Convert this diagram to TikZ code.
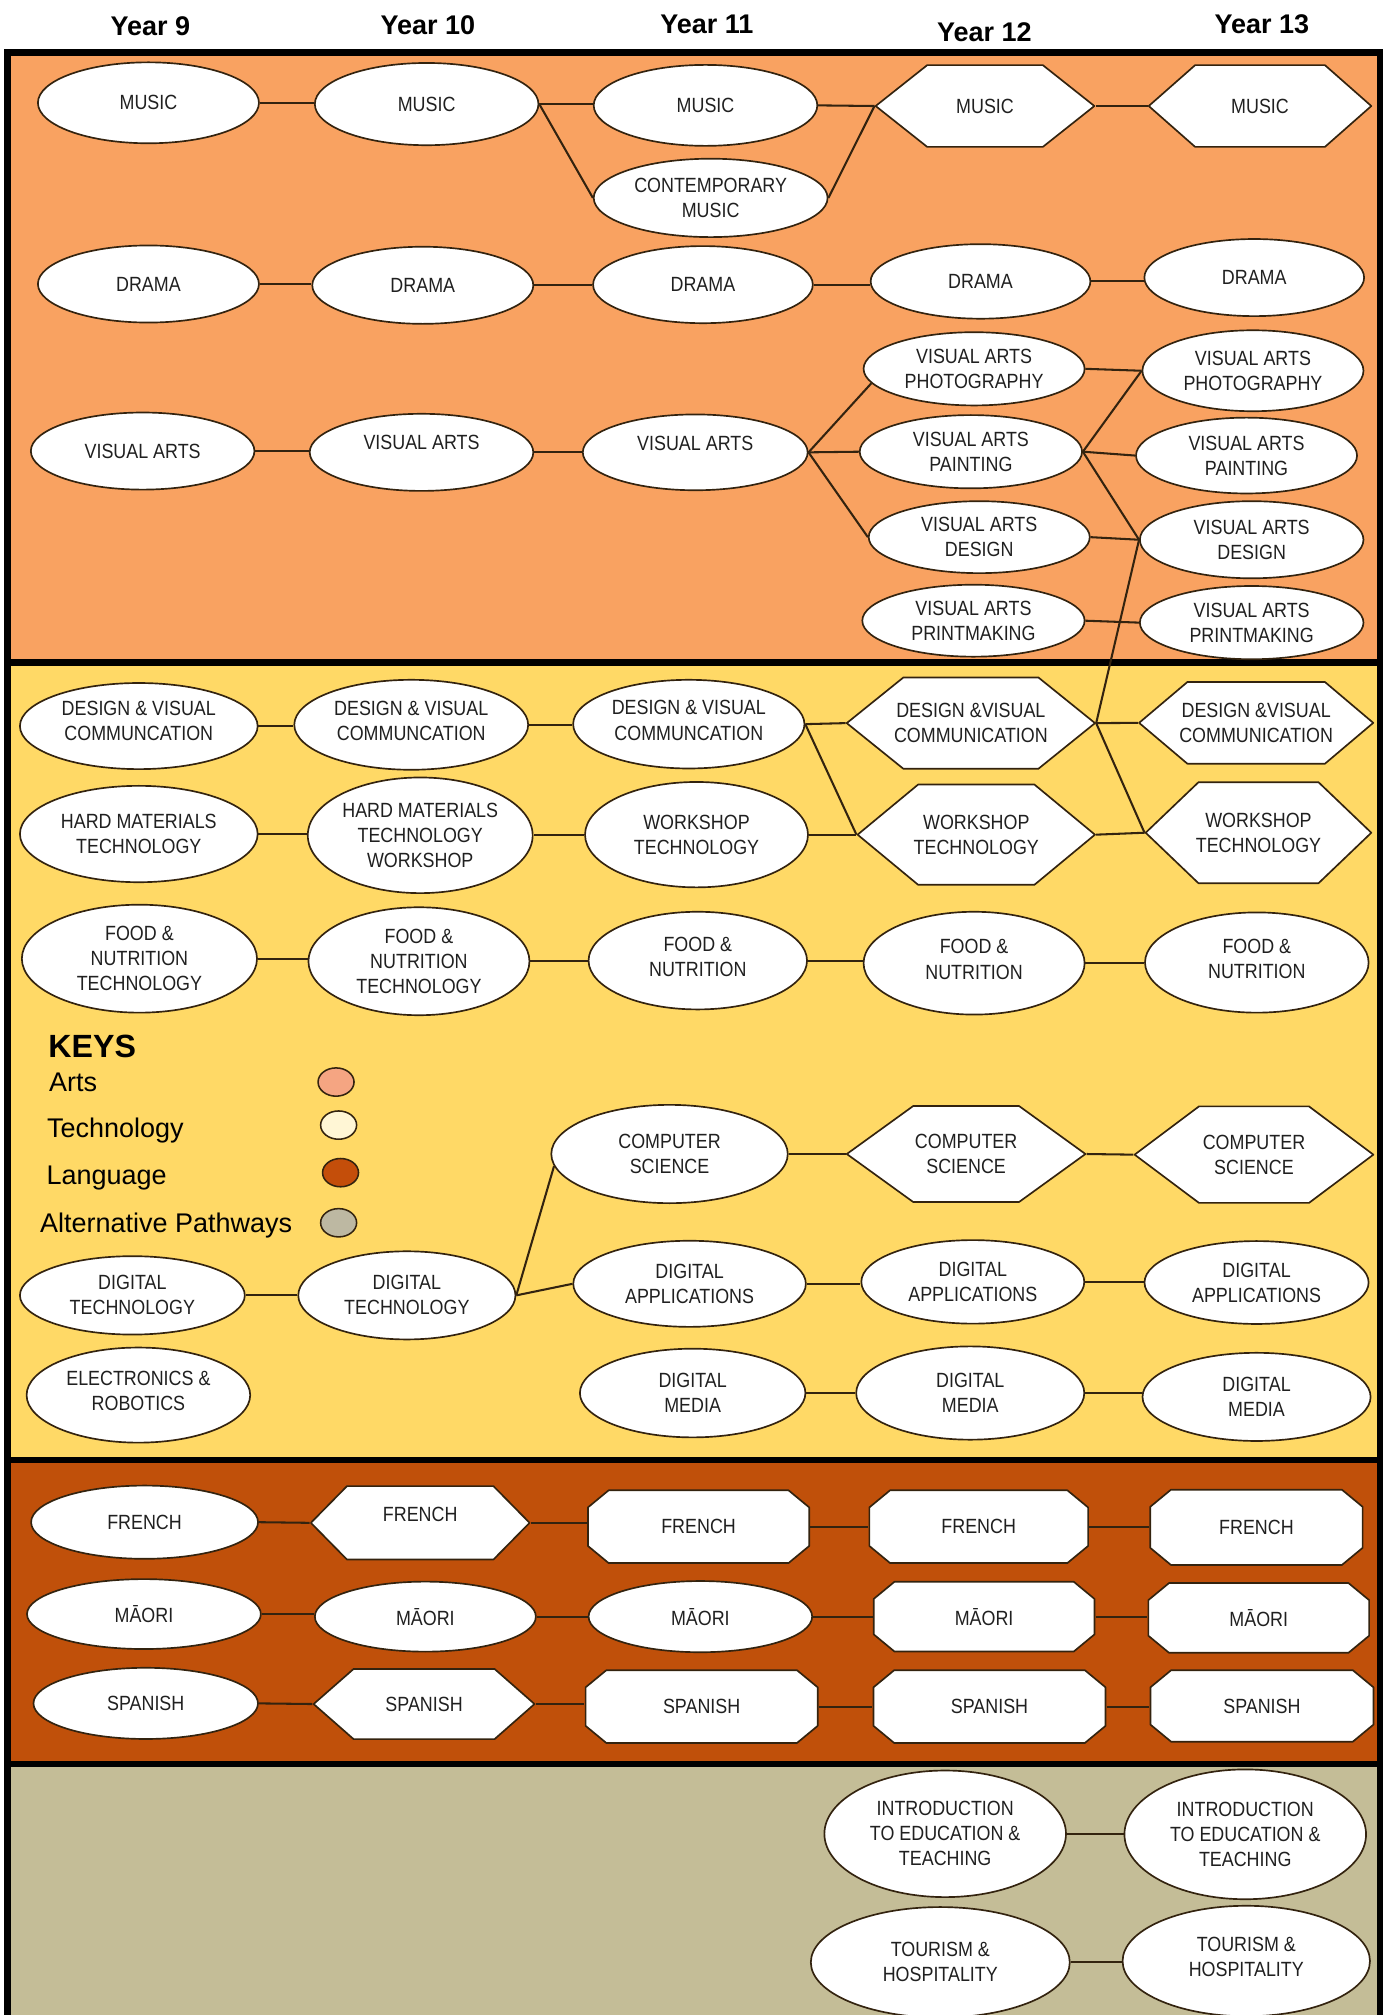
\documentclass[tikz,border=0pt]{standalone}
\usepackage{fontspec}
\setmainfont{Liberation Sans}
\newfontfamily\nodefam[FakeStretch=0.87]{Liberation Sans}
\newcommand\nfnt{\nodefam\fontsize{16}{19.5}\selectfont}
\usetikzlibrary{shapes.geometric}
\definecolor{artsc}{HTML}{F9A261}
\definecolor{techc}{HTML}{FFD966}
\definecolor{langc}{HTML}{C0500A}
\definecolor{altc}{HTML}{C4BD97}
\definecolor{linec}{HTML}{33230F}
\definecolor{txtc}{HTML}{202020}
\definecolor{artsk}{HTML}{F5A582}
\definecolor{techk}{HTML}{FFF6D5}
\definecolor{langk}{HTML}{C44E0A}
\definecolor{altk}{HTML}{BDB8A2}
\tikzset{
  hexin/.store in=\hexin, hexin=40pt,
  octx/.store in=\octx, octx=17pt,
  octy/.store in=\octy, octy=14pt,
  sz/.style 2 args={minimum width=#1pt, minimum height=#2pt},
  txtup/.style={text depth=#1},
  ell/.style={ellipse, draw=linec, fill=white, line width=1.3pt, inner sep=0pt,
    align=center, font=\nfnt, text=txtc},
  hexnode/.style={rectangle, inner sep=0pt, outer sep=0pt, align=center, font=\nfnt, text=txtc,
    path picture={\filldraw[fill=white, draw=linec, line width=1.3pt, line join=round]
      ([xshift=0.9pt]path picture bounding box.west)
      -- ([xshift=\hexin, yshift=-0.7pt]path picture bounding box.north west)
      -- ([xshift=-\hexin, yshift=-0.7pt]path picture bounding box.north east)
      -- ([xshift=-0.9pt]path picture bounding box.east)
      -- ([xshift=-\hexin, yshift=0.7pt]path picture bounding box.south east)
      -- ([xshift=\hexin, yshift=0.7pt]path picture bounding box.south west)
      -- cycle;}},
  octnode/.style={rectangle, inner sep=0pt, outer sep=0pt, align=center, font=\nfnt, text=txtc,
    path picture={\filldraw[fill=white, draw=linec, line width=1.3pt, line join=round]
      ([xshift=0.9pt, yshift=-\octy]path picture bounding box.north west)
      -- ([xshift=\octx, yshift=-0.7pt]path picture bounding box.north west)
      -- ([xshift=-\octx, yshift=-0.7pt]path picture bounding box.north east)
      -- ([xshift=-0.9pt, yshift=-\octy]path picture bounding box.north east)
      -- ([xshift=-0.9pt, yshift=\octy]path picture bounding box.south east)
      -- ([xshift=-\octx, yshift=0.7pt]path picture bounding box.south east)
      -- ([xshift=\octx, yshift=0.7pt]path picture bounding box.south west)
      -- ([xshift=0.9pt, yshift=\octy]path picture bounding box.south west)
      -- cycle;}},
  conn/.style={draw=linec, line width=1.6pt},
  frame/.style={draw=black, line width=5pt},
  hdr/.style={font=\fontsize{21}{25}\selectfont\bfseries, text=black, inner sep=0pt},
  leg/.style={font=\fontsize{21}{25}\selectfont, text=black, inner sep=0pt},
  keysym/.style={ellipse, draw=linec, line width=1.2pt, minimum width=28pt, minimum height=22pt, inner sep=0pt},
}
\newcommand\hlink[2]{\draw[conn] (#1.east) -- (#1.east -| #2.west);}
\begin{document}
\begin{tikzpicture}[x=1pt, y=-1pt]
\useasboundingbox (0,0) rectangle (1082,1568);
% backgrounds
\fill[artsc] (6,41) rectangle (1074,515.5);
\fill[techc] (6,515.5) rectangle (1074,1136);
\fill[langc] (6,1136) rectangle (1074,1372.5);
\fill[altc] (6,1372.5) rectangle (1074,1568);
\draw[frame] (6,1570) -- (6,41) -- (1074,41) -- (1074,1570);
\draw[frame] (6,515.5) -- (1074,515.5);
\draw[frame] (6,1136) -- (1074,1136);
\draw[frame] (6,1372.5) -- (1074,1372.5);
% headers
\node[hdr, anchor=base] (h9) at (117,28) {Year 9};
\node[hdr, anchor=base] (h10) at (333,27) {Year 10};
\node[hdr, anchor=base] (h11) at (550,26) {Year 11};
\node[hdr, anchor=base] (h12) at (766,32) {Year 12};
\node[hdr, anchor=base] (h13) at (982,26) {Year 13};
% ARTS
\node[ell, sz={172}{63}] (m9) at (115.5,80) {MUSIC};
\node[ell, sz={174}{64}] (m10) at (332,81) {MUSIC};
\node[ell, sz={174}{63}] (m11) at (549,82) {MUSIC};
\node[ell, sz={182}{61}] (cm11) at (553,154) {CONTEMPORARY\\MUSIC};
\node[hexnode, sz={172}{65}, hexin=41pt] (m12) at (766.5,82.5) {MUSIC};
\node[hexnode, sz={175}{65}, hexin=37pt] (m13) at (980.5,82.5) {MUSIC};
\node[ell, sz={172}{60}] (d9) at (115.5,221) {DRAMA};
\node[ell, sz={172}{60}] (d10) at (329,222) {DRAMA};
\node[ell, sz={171}{60}] (d11) at (547,221.5) {DRAMA};
\node[ell, sz={171}{58}] (d12) at (763,219) {DRAMA};
\node[ell, sz={171}{60}] (d13) at (976,216) {DRAMA};
\node[ell, sz={174}{60}] (va9) at (111,351) {VISUAL ARTS};
\node[ell, sz={174}{60}, txtup=16pt] (va10) at (328,352) {VISUAL ARTS};
\node[ell, sz={175}{59}, txtup=14pt] (va11) at (541,352) {VISUAL ARTS};
\node[ell, sz={172}{57}] (vap12) at (758,287) {VISUAL ARTS\\PHOTOGRAPHY};
\node[ell, sz={173}{57}] (vapa12) at (755.5,351.5) {VISUAL ARTS\\PAINTING};
\node[ell, sz={172}{56}] (vad12) at (762,418) {VISUAL ARTS\\DESIGN};
\node[ell, sz={173}{56}] (vapr12) at (757.5,483) {VISUAL ARTS\\PRINTMAKING};
\node[ell, sz={172}{63}] (vap13) at (975,288.5) {VISUAL ARTS\\PHOTOGRAPHY};
\node[ell, sz={172}{59}] (vapa13) at (970,354.5) {VISUAL ARTS\\PAINTING};
\node[ell, sz={174}{60}] (vad13) at (974,420) {VISUAL ARTS\\DESIGN};
\node[ell, sz={174}{57}] (vapr13) at (974,484.5) {VISUAL ARTS\\PRINTMAKING};
% TECHNOLOGY
\node[ell, sz={185}{67}, txtup=8pt] (dvc9) at (108,565) {DESIGN \& VISUAL\\COMMUNCATION};
\node[ell, sz={182}{70}, txtup=6pt] (dvc10) at (320,564) {DESIGN \& VISUAL\\COMMUNCATION};
\node[ell, sz={180}{69}, txtup=6pt] (dvc11) at (536,563.5) {DESIGN \& VISUAL\\COMMUNCATION};
\node[hexnode, sz={195}{72.5}, hexin=45pt] (dvc12) at (755.5,562.7) {DESIGN \&VISUAL\\COMMUNICATION};
\node[hexnode, sz={184}{65}, hexin=38.5pt] (dvc13) at (977.5,562.5) {DESIGN \&VISUAL\\COMMUNICATION};
\node[ell, sz={185}{75}] (hmt9) at (108,649) {HARD MATERIALS\\TECHNOLOGY};
\node[ell, sz={175}{90}] (hmt10) at (327,650) {HARD MATERIALS\\TECHNOLOGY\\WORKSHOP};
\node[ell, sz={173.5}{82}] (ws11) at (542,649.5) {WORKSHOP\\TECHNOLOGY};
\node[hexnode, sz={186.5}{79.4}, hexin=48pt] (ws12) at (759.7,649.5) {WORKSHOP\\TECHNOLOGY};
\node[hexnode, sz={177.4}{80}, hexin=42pt] (ws13) at (979.3,648) {WORKSHOP\\TECHNOLOGY};
\node[ell, sz={183}{84}] (f9) at (108.5,746) {FOOD \&\\NUTRITION\\TECHNOLOGY};
\node[ell, sz={172}{84}] (f10) at (326,748) {FOOD \&\\NUTRITION\\TECHNOLOGY};
\node[ell, sz={170}{76}, txtup=6pt] (f11) at (543,747.5) {FOOD \&\\NUTRITION};
\node[ell, sz={172}{80}, txtup=6pt] (f12) at (758,749.5) {FOOD \&\\NUTRITION};
\node[ell, sz={174}{78}, txtup=6pt] (f13) at (978,749) {FOOD \&\\NUTRITION};
% legend
\node[font=\fontsize{25}{30}\selectfont\bfseries, text=black, inner sep=0pt, anchor=base west] (keys) at (37.5,823) {KEYS};
\node[leg, anchor=base west] (lArts) at (38,849) {Arts};
\node[leg, anchor=base west] (lTech) at (36.5,885) {Technology};
\node[leg, anchor=base west] (lLang) at (36,922) {Language};
\node[leg, anchor=base west] (lAlt) at (31,959) {Alternative Pathways};
\node[keysym, fill=artsk] (sArts) at (261.5,842) {};
\node[keysym, fill=techk] (sTech) at (263.5,875.5) {};
\node[keysym, fill=langk] (sLang) at (265,912.5) {};
\node[keysym, fill=altk] (sAlt) at (263.5,951.5) {};
% digital
\node[ell, sz={184}{76.5}] (cs11) at (521,898) {COMPUTER\\SCIENCE};
\node[hexnode, sz={187.5}{76}, hexin=52.5pt] (cs12) at (751.8,898) {COMPUTER\\SCIENCE};
\node[hexnode, sz={187.6}{76.5}, hexin=51pt] (cs13) at (975.8,898.5) {COMPUTER\\SCIENCE};
\node[ell, sz={181}{67}] (da11) at (536.6,999) {DIGITAL\\APPLICATIONS};
\node[ell, sz={173.5}{65}] (da12) at (757,997.5) {DIGITAL\\APPLICATIONS};
\node[ell, sz={174.4}{64.5}] (da13) at (977.8,998) {DIGITAL\\APPLICATIONS};
\node[ell, sz={175.5}{69}] (dm11) at (539,1084) {DIGITAL\\MEDIA};
\node[ell, sz={177.5}{72.6}] (dm12) at (755,1084) {DIGITAL\\MEDIA};
\node[ell, sz={177.5}{68.6}] (dm13) at (977.8,1087) {DIGITAL\\MEDIA};
\node[ell, sz={175}{61}] (dt9) at (103,1008) {DIGITAL\\TECHNOLOGY};
\node[ell, sz={169}{68.6}] (dt10) at (316.6,1008) {DIGITAL\\TECHNOLOGY};
\node[ell, sz={174}{74}, txtup=7pt] (er9) at (107.7,1085.6) {ELECTRONICS \&\\ROBOTICS};
% LANGUAGE
\node[ell, sz={176.6}{57}] (fr9) at (112.5,1184.5) {FRENCH};
\node[hexnode, sz={172}{58.5}, hexin=29pt, txtup=14pt] (fr10) at (327,1185) {FRENCH};
\node[octnode, sz={174}{58}] (fr11) at (543.6,1188) {FRENCH};
\node[octnode, sz={172}{58}] (fr12) at (761.6,1188) {FRENCH};
\node[octnode, sz={167}{60}] (fr13) at (977.7,1188.5) {FRENCH};
\node[ell, sz={182}{54.4}] (ma9) at (112,1256) {MĀORI};
\node[ell, sz={172}{54.5}] (ma10) at (331,1258) {MĀORI};
\node[ell, sz={174}{55.4}] (ma11) at (545,1258) {MĀORI};
\node[octnode, sz={173.5}{55.7}] (ma12) at (765.8,1258) {MĀORI};
\node[octnode, sz={173.6}{55.7}] (ma13) at (979.5,1259) {MĀORI};
\node[ell, sz={174.7}{55.4}] (sp9) at (113.4,1325.5) {SPANISH};
\node[hexnode, sz={173.7}{56}, hexin=32pt] (sp10) at (330,1326) {SPANISH};
\node[octnode, sz={182.4}{58}] (sp11) at (546,1328) {SPANISH};
\node[octnode, sz={182.4}{58}] (sp12) at (770,1328) {SPANISH};
\node[octnode, sz={175.4}{57}] (sp13) at (982,1327.5) {SPANISH};
% ALTERNATIVE
\node[ell, sz={188}{98.5}] (ie12) at (735.5,1427) {INTRODUCTION\\TO EDUCATION \&\\TEACHING};
\node[ell, sz={188}{101}] (ie13) at (969,1427.4) {INTRODUCTION\\TO EDUCATION \&\\TEACHING};
\node[ell, sz={201.5}{86}] (th12) at (731.7,1527) {TOURISM \&\\HOSPITALITY};
\node[ell, sz={192.5}{86}, txtup=6pt] (th13) at (969.8,1526) {TOURISM \&\\HOSPITALITY};
% connectors - arts
\hlink{m9}{m10}
\hlink{m10}{m11}
\draw[conn] (m10.east) -- (cm11.west);
\draw[conn] (m11.east) -- (m12.west);
\draw[conn] (cm11.east) -- (m12.west);
\draw[conn] (m12.east) -- (m13.west);
\hlink{d9}{d10}
\hlink{d10}{d11}
\hlink{d11}{d12}
\hlink{d12}{d13}
\hlink{va9}{va10}
\hlink{va10}{va11}
\draw[conn] (va11.east) -- (vap12.188);
\draw[conn] (va11.east) -- (vapa12.west);
\draw[conn] (va11.east) -- (vad12.west);
\draw[conn] (vap12.east) -- (vap13.west);
\draw[conn] (vapa12.east) -- (vap13.west);
\draw[conn] (vapa12.east) -- (vapa13.west);
\draw[conn] (vapa12.east) -- (vad13.west);
\draw[conn] (vad12.east) -- (vad13.west);
\draw[conn] (vapr12.east) -- (vapr13.west);
% connectors - technology
\hlink{dvc9}{dvc10}
\hlink{dvc10}{dvc11}
\draw[conn] (dvc11.east) -- (dvc12.west);
\draw[conn] (dvc11.east) -- (ws12.west);
\draw[conn] (dvc12.east) -- (dvc13.west);
\draw[conn] (dvc12.east) -- (ws13.west);
\draw[conn] (dvc12.east) -- (vad13.west);
\hlink{hmt9}{hmt10}
\hlink{hmt10}{ws11}
\draw[conn] (ws11.east) -- (ws12.west);
\draw[conn] (ws12.east) -- (ws13.west);
\hlink{f9}{f10}
\hlink{f10}{f11}
\hlink{f11}{f12}
\hlink{f12}{f13}
\hlink{dt9}{dt10}
\draw[conn] (dt10.east) -- (cs11.186);
\draw[conn] (dt10.east) -- (da11.west);
\draw[conn] (cs11.east) -- (cs12.west);
\draw[conn] (cs12.east) -- (cs13.west);
\hlink{da11}{da12}
\hlink{da12}{da13}
\hlink{dm11}{dm12}
\hlink{dm12}{dm13}
% connectors - language
\draw[conn] (fr9.east) -- (fr10.west);
\hlink{fr10}{fr11}
\hlink{fr11}{fr12}
\hlink{fr12}{fr13}
\hlink{ma9}{ma10}
\hlink{ma10}{ma11}
\hlink{ma11}{ma12}
\hlink{ma12}{ma13}
\draw[conn] (sp9.east) -- (sp10.west);
\hlink{sp10}{sp11}
\hlink{sp11}{sp12}
\hlink{sp12}{sp13}
% connectors - alternative
\hlink{ie12}{ie13}
\hlink{th12}{th13}
\end{tikzpicture}
\end{document}
